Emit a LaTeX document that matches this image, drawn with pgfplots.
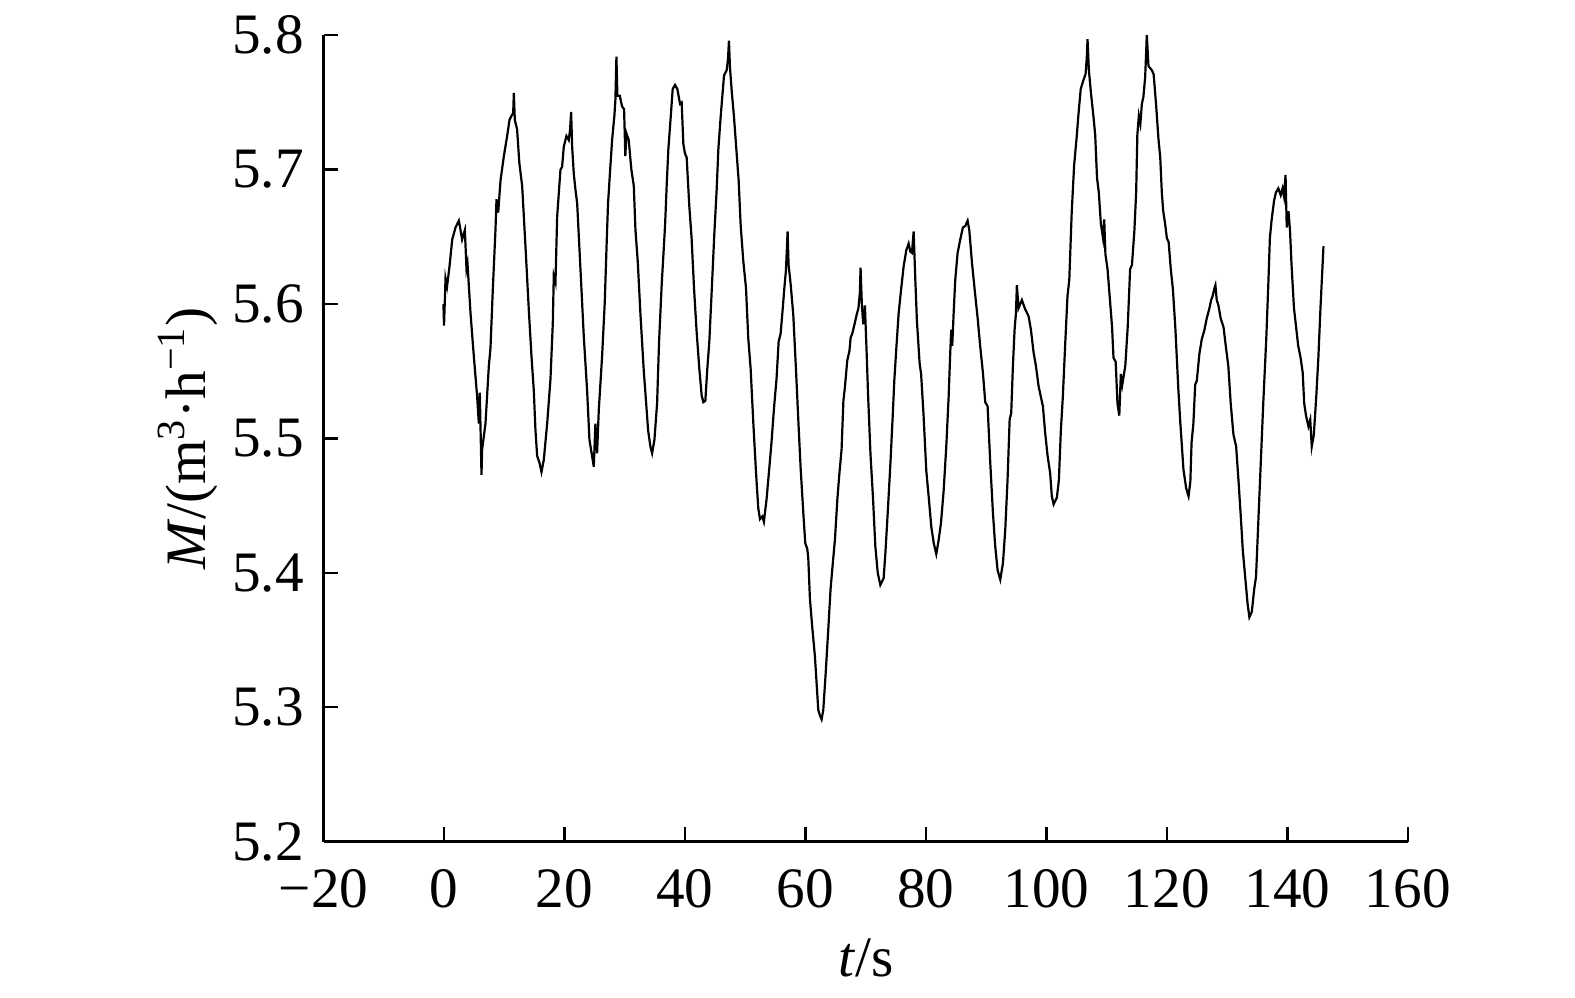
\documentclass[border=0pt]{standalone}
\usepackage{fontspec}
\setmainfont{Liberation Serif}
\usepackage{pgfplots}
\usepackage{pgfplotstable}
\pgfplotsset{compat=1.18}
\pgfplotstableread{
t M
-0.10 5.600
0.00 5.584
0.25 5.619
0.50 5.613
0.91 5.628
1.36 5.648
1.91 5.657
2.46 5.662
2.74 5.655
3.00 5.648
3.46 5.655
3.73 5.626
3.90 5.630
4.40 5.593
4.95 5.561
5.50 5.531
5.78 5.511
5.94 5.534
6.22 5.473
6.33 5.492
6.88 5.511
7.44 5.554
7.71 5.567
8.10 5.611
8.54 5.655
8.71 5.678
8.99 5.668
9.38 5.692
9.93 5.710
10.48 5.725
10.87 5.737
11.20 5.740
11.48 5.742
11.59 5.757
11.75 5.737
12.13 5.730
12.50 5.705
12.97 5.688
13.52 5.643
14.07 5.596
14.52 5.561
14.90 5.536
15.18 5.506
15.46 5.487
15.84 5.482
16.18 5.475
16.56 5.484
17.12 5.511
17.67 5.544
18.06 5.586
18.22 5.621
18.50 5.616
18.78 5.665
19.33 5.700
19.60 5.702
19.88 5.717
20.32 5.725
20.71 5.722
20.93 5.730
21.10 5.743
21.27 5.717
21.54 5.697
21.82 5.685
22.10 5.675
22.65 5.626
23.20 5.576
23.75 5.536
24.14 5.499
24.58 5.487
24.86 5.479
25.13 5.511
25.41 5.489
25.69 5.521
26.24 5.561
26.68 5.601
27.07 5.655
27.23 5.675
27.51 5.695
27.90 5.722
28.28 5.740
28.45 5.752
28.62 5.784
28.78 5.755
29.17 5.755
29.56 5.747
29.89 5.745
30.10 5.710
30.28 5.727
30.66 5.722
31.10 5.700
31.50 5.688
31.78 5.655
32.17 5.631
32.60 5.593
33.15 5.551
33.43 5.534
33.88 5.506
34.26 5.494
34.54 5.489
34.93 5.499
35.37 5.526
35.70 5.572
36.14 5.615
36.40 5.635
36.70 5.659
36.97 5.689
37.24 5.715
37.63 5.739
37.96 5.760
38.35 5.763
38.73 5.760
39.18 5.749
39.45 5.750
39.73 5.719
40.00 5.712
40.28 5.709
40.73 5.672
41.10 5.649
41.50 5.612
41.94 5.579
42.38 5.552
42.77 5.532
43.05 5.527
43.38 5.528
43.71 5.552
44.04 5.572
44.43 5.609
44.87 5.652
45.26 5.685
45.54 5.715
45.92 5.739
46.48 5.770
46.92 5.774
47.14 5.782
47.30 5.796
47.47 5.776
47.75 5.759
48.14 5.739
48.58 5.712
48.91 5.692
49.24 5.659
49.68 5.632
50.13 5.612
50.50 5.575
50.90 5.552
51.34 5.512
51.79 5.475
52.17 5.448
52.45 5.440
52.84 5.442
53.10 5.438
53.55 5.455
54.00 5.478
54.38 5.498
54.77 5.522
55.21 5.545
55.55 5.572
55.88 5.578
56.20 5.595
56.50 5.612
56.76 5.625
57.04 5.654
57.20 5.629
57.54 5.615
57.98 5.592
58.42 5.552
58.80 5.515
59.20 5.478
59.64 5.445
59.97 5.422
60.30 5.418
60.47 5.411
60.74 5.381
61.10 5.361
61.57 5.338
61.85 5.318
62.13 5.298
62.40 5.294
62.68 5.291
62.96 5.298
63.34 5.324
63.79 5.358
64.17 5.388
64.50 5.405
64.90 5.425
65.30 5.455
65.60 5.472
66.00 5.492
66.30 5.528
66.55 5.538
66.94 5.558
67.30 5.565
67.50 5.575
67.77 5.578
68.15 5.585
68.50 5.592
68.80 5.597
69.04 5.609
69.15 5.627
69.37 5.599
69.60 5.585
69.87 5.599
70.15 5.565
70.40 5.532
70.80 5.488
71.20 5.457
71.60 5.420
72.00 5.400
72.43 5.391
72.98 5.396
73.26 5.414
73.65 5.444
74.10 5.481
74.50 5.518
74.75 5.543
75.10 5.568
75.47 5.593
75.86 5.610
76.30 5.628
76.74 5.640
77.13 5.645
77.40 5.639
77.68 5.638
77.96 5.654
78.24 5.618
78.50 5.588
78.95 5.556
79.20 5.548
79.60 5.518
80.06 5.476
80.45 5.457
80.90 5.434
81.30 5.422
81.72 5.414
82.10 5.424
82.50 5.437
82.94 5.461
83.38 5.494
83.77 5.531
84.04 5.564
84.20 5.581
84.37 5.569
84.60 5.593
84.87 5.618
85.26 5.638
85.70 5.648
86.14 5.657
86.53 5.658
86.92 5.662
87.20 5.655
87.64 5.631
88.20 5.606
88.60 5.589
89.00 5.569
89.46 5.549
89.85 5.527
90.24 5.524
90.68 5.482
91.12 5.445
91.50 5.420
91.90 5.402
92.34 5.395
92.78 5.407
93.17 5.432
93.55 5.469
93.90 5.514
94.16 5.519
94.44 5.554
94.72 5.581
94.94 5.593
95.10 5.614
95.38 5.597
95.93 5.603
96.49 5.596
97.04 5.591
97.43 5.581
97.87 5.564
98.26 5.554
98.70 5.539
99.08 5.531
99.42 5.524
99.80 5.504
100.20 5.487
100.63 5.474
100.90 5.457
101.20 5.451
101.74 5.456
102.07 5.469
102.40 5.506
102.73 5.531
103.10 5.568
103.50 5.606
103.80 5.618
104.20 5.668
104.60 5.703
105.06 5.726
105.30 5.740
105.70 5.760
106.17 5.767
106.50 5.771
106.70 5.783
106.83 5.797
107.05 5.774
107.40 5.757
107.80 5.740
108.10 5.726
108.40 5.694
108.70 5.683
109.04 5.660
109.40 5.649
109.60 5.663
109.80 5.637
110.15 5.626
110.50 5.606
110.90 5.583
111.14 5.560
111.50 5.557
111.80 5.526
112.10 5.517
112.36 5.548
112.60 5.540
113.10 5.554
113.50 5.583
113.90 5.626
114.20 5.629
114.60 5.654
114.90 5.683
115.10 5.726
115.35 5.740
115.60 5.734
115.85 5.749
116.10 5.754
116.40 5.769
116.67 5.800
116.95 5.777
117.50 5.774
117.80 5.771
118.20 5.749
118.60 5.723
118.90 5.709
119.16 5.683
119.40 5.669
119.70 5.660
120.00 5.649
120.30 5.646
120.65 5.626
121.00 5.611
121.40 5.583
121.65 5.560
121.90 5.537
122.20 5.514
122.50 5.494
122.75 5.477
123.20 5.463
123.60 5.457
123.90 5.468
124.10 5.497
124.40 5.511
124.70 5.540
124.97 5.543
125.40 5.563
125.80 5.574
126.20 5.580
126.60 5.589
127.07 5.597
127.35 5.603
127.60 5.606
127.85 5.611
128.06 5.614
128.28 5.603
128.56 5.599
128.95 5.589
129.40 5.583
129.80 5.568
130.20 5.554
130.60 5.526
131.05 5.503
131.50 5.494
131.90 5.468
132.30 5.440
132.60 5.417
133.00 5.397
133.40 5.377
133.70 5.367
134.10 5.371
134.50 5.388
134.80 5.397
135.20 5.440
135.60 5.483
136.00 5.526
136.50 5.574
136.86 5.617
137.10 5.649
137.40 5.663
137.80 5.677
138.10 5.683
138.50 5.686
138.90 5.681
139.20 5.686
139.45 5.680
139.70 5.696
139.90 5.657
140.20 5.669
140.45 5.654
140.70 5.629
141.10 5.597
141.45 5.583
141.80 5.569
142.20 5.560
142.55 5.549
142.80 5.526
143.10 5.517
143.50 5.509
143.80 5.514
144.05 5.494
144.40 5.503
144.80 5.531
145.15 5.560
145.50 5.597
146.00 5.643
}\flowdata
\begin{document}
\fontsize{14.3}{17}\selectfont
\begin{tikzpicture}
\path[use as bounding box] (-80.9pt,-39.05pt) rectangle (312.9pt,210.45pt);
\begin{axis}[
  at={(0pt,0pt)}, anchor=south west,
  scale only axis, width=271.1pt, height=201.65pt,
  xmin=-20, xmax=160, ymin=5.2, ymax=5.8,
  axis x line=bottom, axis y line=left,
  axis line style={-, line width=0.6pt, black},
  tick align=inside, major tick length=3.6pt,
  tick style={line width=0.6pt, black},
  xtick={-20,0,20,40,60,80,100,120,140,160},
  xticklabels={−20,0,20,40,60,80,100,120,140,160},
  ytick={5.2,5.3,5.4,5.5,5.6,5.7,5.8},
  yticklabels={5.2,5.3,5.4,5.5,5.6,5.7,5.8},
  xticklabel style={font=\fontsize{14.3}{17}\selectfont, yshift=-2pt},
  yticklabel style={font=\fontsize{14.3}{17}\selectfont},
  xlabel={\textit{t}/s},
  ylabel={\textit{M}/(m\textsuperscript{3}·h\textsuperscript{−1})},
  label style={font=\fontsize{14.3}{17}\selectfont},
  xlabel shift=-2pt,
  ylabel shift=-6pt,
  clip=false,
]
\addplot[black, line width=0.55pt] table[x=t, y=M] {\flowdata};
\end{axis}
\end{tikzpicture}
\end{document}
